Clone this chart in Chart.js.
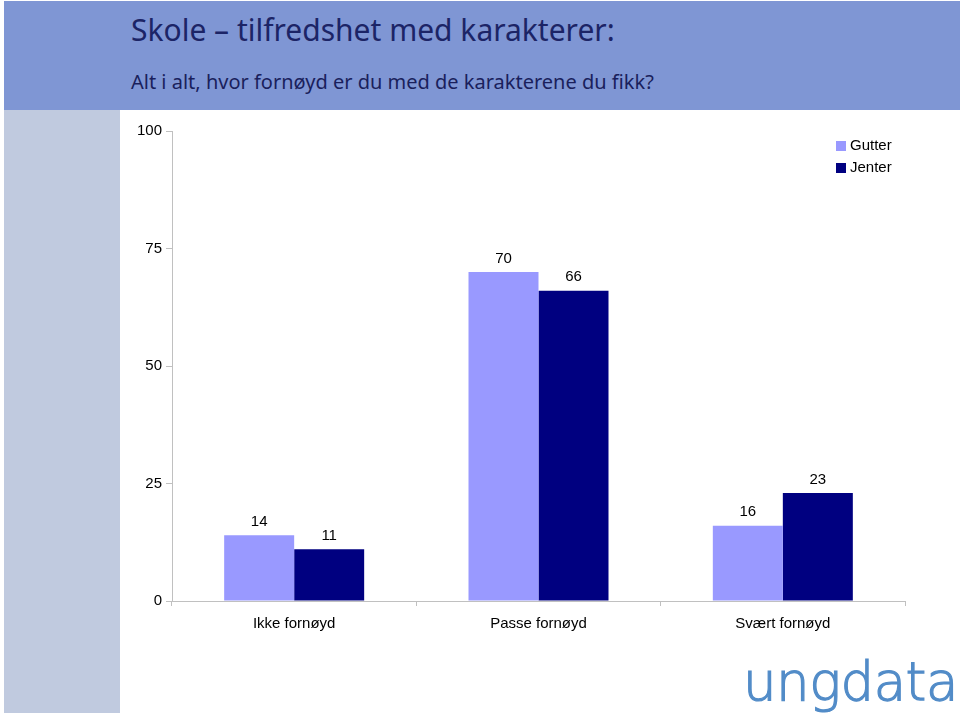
<!DOCTYPE html>
<html>
<head>
<meta charset="utf-8">
<script src="https://cdn.jsdelivr.net/npm/chart.js@4/dist/chart.umd.min.js"></script>
<style>
    body { margin: 0; background: #fff; width: 960px; height: 716px; position: relative; overflow: hidden; }
    #topp { position: absolute; left: 4px; top: 1px; width: 956px; height: 109px; background: #7f96d4; }
    #tittel { position: absolute; left: 127px; top: 8px; font-family: "Noto Sans", sans-serif; font-size: 30px; color: #1c2466; white-space: nowrap; }
    #undertittel { position: absolute; left: 127px; top: 67px; font-family: "Noto Sans", sans-serif; font-size: 20px; color: #1a1f5c; white-space: nowrap; }
    #stripe { position: absolute; left: 4px; top: 110px; width: 116px; height: 603px; background: #c0cadf; }
    #boks { position: absolute; left: 120px; top: 110px; width: 840px; height: 606px; }
    #logo { position: absolute; left: 743px; top: 655px; line-height: 1; font-family: "DejaVu Sans", sans-serif; font-weight: 200; font-size: 53px; color: #528cc8; -webkit-text-stroke: 1.2px #528cc8; letter-spacing: -0.5px; white-space: nowrap; }
</style>
</head>
<body>
<div id="topp">
    <div id="tittel">Skole – tilfredshet med karakterer:</div>
    <div id="undertittel">Alt i alt, hvor fornøyd er du med de karakterene du fikk?</div>
</div>
<div id="stripe"></div>
<div id="boks"><canvas id="chartKarakterer" width="840" height="606"></canvas></div>
<div id="logo">ungdata</div>

<script>
// Data lest av figuren
const kategorier = ['Ikke fornøyd', 'Passe fornøyd', 'Svært fornøyd'];
const gutter = [14, 70, 16];
const jenter = [11, 66, 23];
const yTicks = [0, 25, 50, 75, 100];

const fargeGutter = '#9999ff';
const fargeJenter = '#000080';
const skrift = '"Liberation Sans", Arial, sans-serif';

// Verdier over søylene
const verdiEtiketter = {
    id: 'verdiEtiketter',
    afterDatasetsDraw(chart) {
        const ctx = chart.ctx;
        ctx.save();
        ctx.font = '15px ' + skrift;
        ctx.fillStyle = '#000';
        ctx.textAlign = 'center';
        ctx.textBaseline = 'bottom';
        chart.data.datasets.forEach((ds, i) => {
            chart.getDatasetMeta(i).data.forEach((bar, j) => {
                ctx.fillText(ds.data[j], bar.x, bar.y - 6);
            });
        });
        ctx.restore();
    }
};

// Egen legende oppe til høyre
const legende = {
    id: 'legende',
    afterDraw(chart) {
        const ctx = chart.ctx;
        ctx.save();
        ctx.font = '15px ' + skrift;
        ctx.textBaseline = 'middle';
        chart.data.datasets.forEach((ds, i) => {
            const y = 36 + i * 22;
            ctx.fillStyle = ds.backgroundColor;
            ctx.fillRect(716, y - 5, 10, 10);
            ctx.fillStyle = '#000';
            ctx.fillText(ds.label, 730, y);
        });
        ctx.restore();
    }
};

new Chart(document.getElementById('chartKarakterer'), {
    type: 'bar',
    data: {
        labels: kategorier,
        datasets: [
            { label: 'Gutter', data: gutter, backgroundColor: fargeGutter },
            { label: 'Jenter', data: jenter, backgroundColor: fargeJenter }
        ]
    },
    options: {
        responsive: false,
        animation: false,
        layout: { padding: { top: 21, right: 55, left: 0, bottom: 0 } },
        datasets: { bar: { categoryPercentage: 0.573, barPercentage: 1.0 } },
        plugins: {
            legend: { display: false },
            tooltip: { enabled: false }
        },
        scales: {
            y: {
                min: 0,
                max: 100,
                afterFit: function(scale) { scale.width = 52; },
                afterBuildTicks: function(scale) { scale.ticks = yTicks.map(v => ({ value: v })); },
                ticks: {
                    padding: 4,
                    color: '#000',
                    font: { family: skrift, size: 15 }
                },
                grid: { drawOnChartArea: false, tickLength: 6, color: '#c0c0c0' },
                border: { color: '#c0c0c0' }
            },
            x: {
                afterFit: function(scale) { scale.height = 115; },
                ticks: {
                    padding: 9,
                    color: '#000',
                    font: { family: skrift, size: 15 }
                },
                grid: { drawOnChartArea: false, tickLength: 5, color: '#c0c0c0' },
                border: { color: '#c0c0c0' }
            }
        }
    },
    plugins: [verdiEtiketter, legende]
});
</script>
</body>
</html>
